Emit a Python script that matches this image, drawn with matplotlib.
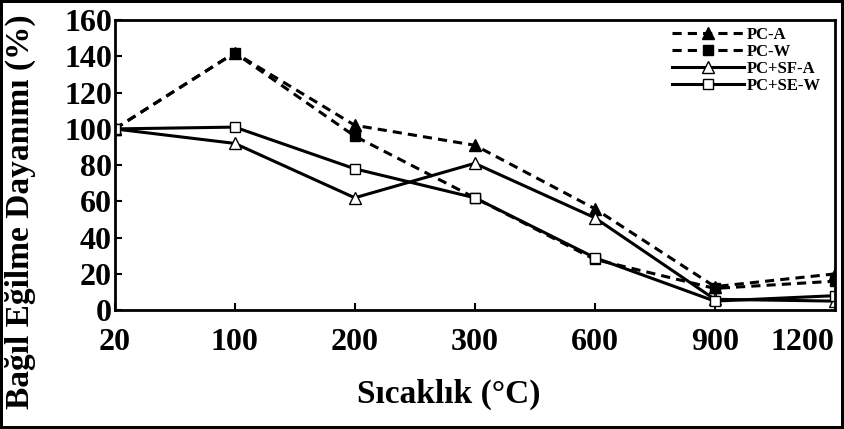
import numpy as np
import matplotlib
import matplotlib.pyplot as plt

matplotlib.rcParams['font.family'] = 'Liberation Serif'
matplotlib.rcParams['font.weight'] = 'bold'
matplotlib.rcParams['font.size'] = 23

# data
temps = ['20', '100', '200', '300', '600', '900', '1200']
pc_a = [100, 142, 102, 91, 56, 13, 20]
pc_w = [100, 142, 96, 62, 28, 12, 16]
pc_sf_a = [100, 92, 62, 81, 51, 6, 5]
pc_se_w = [100, 101, 78, 62, 29, 5, 8]
labels = ['PC-A', 'PC-W', 'PC+SF-A', 'PC+SE-W']

x = np.arange(len(temps))

fig = plt.figure(figsize=(8.44, 4.29), dpi=100, edgecolor='black', linewidth=3)
ax = fig.add_axes([0.136, 0.277, 0.853, 0.676])

ax.plot(x, pc_a, color='black', linestyle=(0, (3, 2)), linewidth=2.2,
        marker='^', markersize=8, markerfacecolor='black', label=labels[0])
ax.plot(x, pc_w, color='black', linestyle=(0, (3, 2)), linewidth=2.2,
        marker='s', markersize=7, markerfacecolor='black', label=labels[1])
ax.plot(x, pc_sf_a, color='black', linestyle='-', linewidth=2.2,
        marker='^', markersize=8, markerfacecolor='white', label=labels[2])
ax.plot(x, pc_se_w, color='black', linestyle='-', linewidth=2.2,
        marker='s', markersize=7, markerfacecolor='white', label=labels[3])

ax.set_xlim(0, 6)
ax.set_ylim(0, 160)
ax.set_yticks(np.arange(0, 161, 20))
ax.set_xticks(x)
ax.set_xticklabels(temps)
ax.get_xticklabels()[-1].set_horizontalalignment('right')
ax.get_xticklabels()[-1].set_x(6.1)
ax.tick_params(direction='in', length=5, width=1.5)
ax.tick_params(axis='x', pad=13)
ax.tick_params(axis='y', pad=2)
for s in ax.spines.values():
    s.set_linewidth(2)

ax.set_xlabel('Sıcaklık (°C)', fontsize=24, fontweight='bold')
ax.xaxis.set_label_coords(0.464, -0.235)
ax.set_ylabel('Bağıl Eğilme Dayanımı (%)', fontsize=24, fontweight='bold')
ax.yaxis.set_label_coords(-0.11, 0.34)

ax.legend(loc='upper right', bbox_to_anchor=(0.995, 1.01), frameon=False,
          fontsize=12, handlelength=4.3, handletextpad=0.2,
          labelspacing=0.05, borderaxespad=0.2)

plt.savefig('out.png', dpi=100)
